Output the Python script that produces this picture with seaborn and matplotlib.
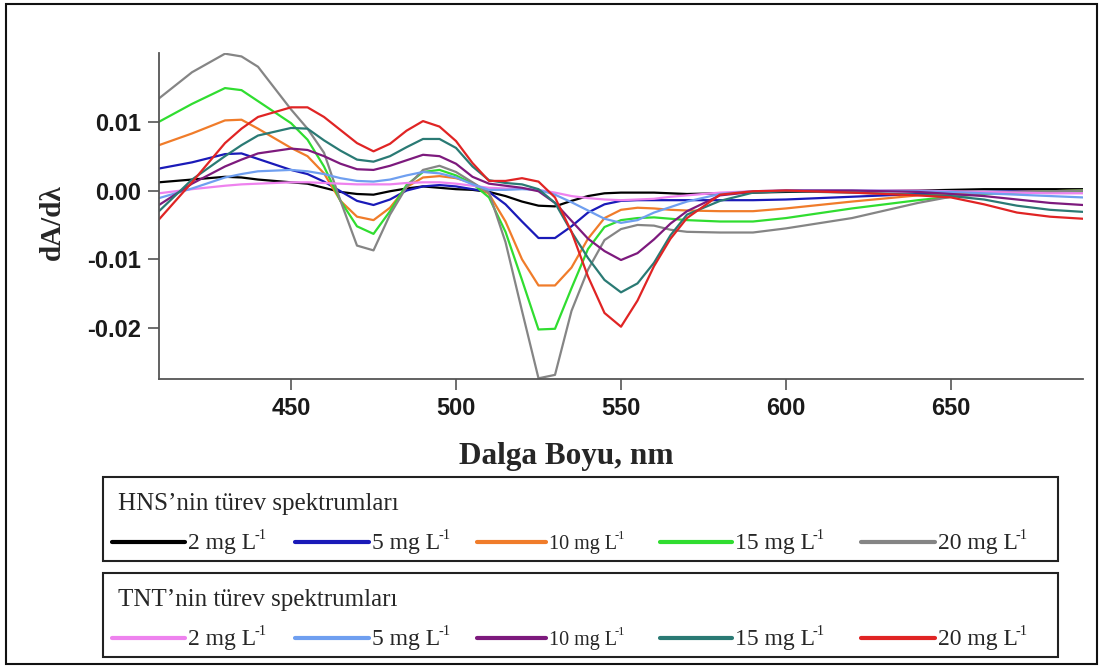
import numpy as np
import pandas as pd
import matplotlib
matplotlib.use("Agg")
import matplotlib.pyplot as plt
import seaborn as sns
from matplotlib.lines import Line2D
from matplotlib.patches import Rectangle

# wavelength grid (nm)
wl = [410, 420, 430, 435, 440, 450, 455, 460, 465, 470, 475, 480, 485, 490, 495,
      500, 505, 510, 515, 520, 525, 530, 535, 540, 545, 550, 555, 560, 565, 570,
      580, 590, 600, 620, 640, 650, 660, 670, 680, 690]

# HNS derivative spectra
hns_2 = [0.0012, 0.0016, 0.0020, 0.0019, 0.0016, 0.0012, 0.0010, 0.0004, -0.0002, -0.0005,
         -0.0006, -0.0001, 0.0003, 0.0006, 0.0004, 0.0002, 0.0001, -0.0002, -0.0008, -0.0016,
         -0.0022, -0.0023, -0.0015, -0.0008, -0.0004, -0.0003, -0.0003, -0.0003, -0.0004, -0.0005,
         -0.0004, -0.0003, -0.0002, -0.0001, 0.0000, 0.0001, 0.0002, 0.0002, 0.0002, 0.0002]
hns_5 = [0.0032, 0.0041, 0.0053, 0.0054, 0.0046, 0.0030, 0.0024, 0.0013, -0.0001, -0.0015,
         -0.0021, -0.0013, 0.0000, 0.0006, 0.0008, 0.0006, 0.0002, -0.0002, -0.0020, -0.0045,
         -0.0069, -0.0069, -0.0052, -0.0032, -0.0020, -0.0015, -0.0014, -0.0014, -0.0014, -0.0014,
         -0.0014, -0.0014, -0.0013, -0.0009, -0.0005, -0.0003, -0.0002, -0.0001, -0.0001, -0.0001]
hns_10 = [0.0066, 0.0083, 0.0102, 0.0103, 0.0090, 0.0062, 0.0050, 0.0025, -0.0015, -0.0038,
          -0.0043, -0.0025, 0.0005, 0.0019, 0.0021, 0.0018, 0.0011, -0.0005, -0.0045, -0.0100,
          -0.0138, -0.0138, -0.0112, -0.0070, -0.0040, -0.0028, -0.0025, -0.0026, -0.0028, -0.0029,
          -0.0030, -0.0030, -0.0026, -0.0016, -0.0007, -0.0005, -0.0003, -0.0002, -0.0001, 0.0000]
hns_15 = [0.0100, 0.0126, 0.0149, 0.0146, 0.0130, 0.0098, 0.0074, 0.0035, -0.0015, -0.0052,
          -0.0063, -0.0030, 0.0008, 0.0027, 0.0030, 0.0022, 0.0010, -0.0010, -0.0060, -0.0130,
          -0.0202, -0.0201, -0.0142, -0.0085, -0.0053, -0.0043, -0.0040, -0.0039, -0.0041, -0.0043,
          -0.0045, -0.0045, -0.0040, -0.0026, -0.0014, -0.0009, -0.0005, -0.0003, -0.0001, 0.0000]
hns_20 = [0.0134, 0.0172, 0.0199, 0.0195, 0.0180, 0.0118, 0.0090, 0.0055, -0.0015, -0.0080,
          -0.0087, -0.0035, 0.0005, 0.0030, 0.0036, 0.0027, 0.0012, -0.0003, -0.0075, -0.0175,
          -0.0273, -0.0268, -0.0175, -0.0115, -0.0072, -0.0056, -0.0050, -0.0051, -0.0057, -0.0060,
          -0.0061, -0.0061, -0.0055, -0.0040, -0.0018, -0.0009, -0.0004, -0.0002, -0.0001, 0.0000]

# TNT derivative spectra
tnt_2 = [-0.0004, 0.0002, 0.0007, 0.0009, 0.0010, 0.0012, 0.0012, 0.0011, 0.0010, 0.0009,
         0.0009, 0.0009, 0.0011, 0.0012, 0.0012, 0.0010, 0.0007, 0.0004, 0.0003, 0.0003,
         0.0001, -0.0003, -0.0008, -0.0011, -0.0013, -0.0014, -0.0013, -0.0012, -0.0009, -0.0007,
         -0.0003, -0.0001, 0.0000, 0.0000, 0.0000, -0.0001, -0.0002, -0.0003, -0.0004, -0.0004]
tnt_5 = [-0.0011, 0.0003, 0.0019, 0.0024, 0.0028, 0.0030, 0.0028, 0.0024, 0.0018, 0.0014,
         0.0013, 0.0016, 0.0022, 0.0027, 0.0025, 0.0019, 0.0009, 0.0001, 0.0001, 0.0002,
         0.0001, -0.0006, -0.0017, -0.0029, -0.0041, -0.0047, -0.0043, -0.0032, -0.0024, -0.0016,
         -0.0005, -0.0001, 0.0000, 0.0000, -0.0001, -0.0002, -0.0004, -0.0006, -0.0008, -0.0010]
tnt_10 = [-0.0021, 0.0010, 0.0035, 0.0045, 0.0054, 0.0061, 0.0059, 0.0050, 0.0039, 0.0031,
          0.0030, 0.0036, 0.0044, 0.0052, 0.0050, 0.0039, 0.0020, 0.0010, 0.0007, 0.0004,
          -0.0001, -0.0018, -0.0044, -0.0070, -0.0088, -0.0101, -0.0091, -0.0071, -0.0048, -0.0030,
          -0.0007, -0.0002, 0.0000, 0.0000, -0.0002, -0.0005, -0.0008, -0.0013, -0.0018, -0.0021]
tnt_15 = [-0.0030, 0.0016, 0.0050, 0.0066, 0.0080, 0.0091, 0.0090, 0.0073, 0.0058, 0.0045,
          0.0042, 0.0050, 0.0063, 0.0075, 0.0075, 0.0062, 0.0035, 0.0015, 0.0011, 0.0009,
          0.0002, -0.0018, -0.0060, -0.0098, -0.0130, -0.0148, -0.0135, -0.0105, -0.0065, -0.0035,
          -0.0015, -0.0003, -0.0001, -0.0003, -0.0006, -0.0008, -0.0013, -0.0022, -0.0028, -0.0031]
tnt_20 = [-0.0042, 0.0012, 0.0069, 0.0090, 0.0107, 0.0121, 0.0121, 0.0107, 0.0088, 0.0069,
          0.0057, 0.0068, 0.0087, 0.0101, 0.0093, 0.0072, 0.0040, 0.0014, 0.0014, 0.0018,
          0.0013, -0.0010, -0.0060, -0.0125, -0.0178, -0.0198, -0.0160, -0.0110, -0.0070, -0.0040,
          -0.0006, -0.0001, 0.0000, -0.0003, -0.0007, -0.0010, -0.0020, -0.0032, -0.0038, -0.0041]

concs = ["2", "5", "10", "15", "20"]
hns_series = [hns_2, hns_5, hns_10, hns_15, hns_20]
tnt_series = [tnt_2, tnt_5, tnt_10, tnt_15, tnt_20]
hns_colors = ["#000000", "#1a1ab8", "#f07c2a", "#30dd30", "#858585"]
tnt_colors = ["#ee82ee", "#6f9ff0", "#7d1a7d", "#2a7a74", "#e02424"]

xticks = [450, 500, 550, 600, 650]
yticks = [-0.02, -0.01, 0.0, 0.01]
ytick_labels = ["-0.02", "-0.01", "0.00", "0.01"]

# long table for seaborn
rows = []
for name, vals in zip(concs, hns_series):
    rows += [("HNS " + name, x, y) for x, y in zip(wl, vals)]
for name, vals in zip(concs, tnt_series):
    rows += [("TNT " + name, x, y) for x, y in zip(wl, vals)]
df = pd.DataFrame(rows, columns=["series", "wl", "dA"])
order = ["HNS " + c for c in concs] + ["TNT " + c for c in concs]
palette = dict(zip(order, hns_colors + tnt_colors))

sns.set_style("white")
plt.rcParams["font.family"] = ["Liberation Sans", "DejaVu Sans"]
plt.rcParams["axes.unicode_minus"] = False

W, H = 1103, 668


def fx(px):
    return px / W


def fy(py):
    return 1 - py / H


fig = plt.figure(figsize=(W / 100, H / 100), dpi=100)
ax = fig.add_axes([fx(159), fy(379), (1083 - 159) / W, (379 - 53) / H])

sns.lineplot(data=df, x="wl", y="dA", hue="series", hue_order=order,
             palette=palette, linewidth=1.6, legend=False, errorbar=None, ax=ax)

ax.set_xlim(410, 690)
ax.set_ylim(-0.0274, 0.0200)
ax.set_xticks(xticks)
ax.set_yticks(yticks)
ax.set_yticklabels(ytick_labels)
ax.set_xlabel("")
ax.set_ylabel("")
sns.despine(ax=ax)
for side in ["left", "bottom"]:
    ax.spines[side].set_color("#555555")
    ax.spines[side].set_linewidth(1.3)
ax.tick_params(direction="out", length=8, width=1.2, color="#555555",
               labelsize=17, labelcolor="#1a1a1a", pad=5, left=True, bottom=True)
for lbl in ax.get_xticklabels() + ax.get_yticklabels():
    lbl.set_fontweight("bold")

serif = ["Liberation Serif", "DejaVu Serif"]
fig.text(fx(52), fy(222), "dA/dλ", rotation=90, ha="center", va="center",
         family=serif, weight="bold", size=21)
fig.text(fx(566), fy(464), "Dalga Boyu, nm", ha="center", va="baseline",
         family=serif, weight="bold", size=22.5)

# outer frame
fig.add_artist(Rectangle((fx(6), fy(664)), (1097 - 6) / W, (664 - 4) / H,
                         fill=False, ec="#111111", lw=1.5, transform=fig.transFigure))

# two legend boxes drawn by hand
titles = ["HNS\u2019nin türev spektrumları", "TNT\u2019nin türev spektrumları"]
item_pos = [(112, 185), (295, 369), (477, 546), (660, 732), (861, 935)]
sup_texts = []
for b, (title, colors) in enumerate(zip(titles, [hns_colors, tnt_colors])):
    off = 96 * b
    fig.add_artist(Rectangle((fx(103), fy(561 + off)), (1058 - 103) / W, 84 / H,
                             fill=False, ec="#222222", lw=1.5, transform=fig.transFigure))
    fig.text(fx(118), fy(510 + off), title, family=serif, size=18, va="baseline")
    for i, (c, col) in enumerate(zip(concs, colors)):
        x0, x1 = item_pos[i]
        fig.add_artist(Line2D([fx(x0), fx(x1)], [fy(542 + off), fy(542 + off)],
                              color=col, lw=3, transform=fig.transFigure))
        size = 14.5 if c == "10" else 17
        t = fig.text(fx(x1 + 3), fy(549 + off), c + " mg L", family=serif,
                     size=size, va="baseline")
        sup_texts.append((t, off, size))

fig.canvas.draw()
renderer = fig.canvas.get_renderer()
for t, off, size in sup_texts:
    bb = t.get_window_extent(renderer)
    fig.text((bb.x1 - 2) / W, fy(539 + off), "-1", family=serif,
             size=size * 0.62, va="baseline")

fig.savefig("out.png", dpi=100)
